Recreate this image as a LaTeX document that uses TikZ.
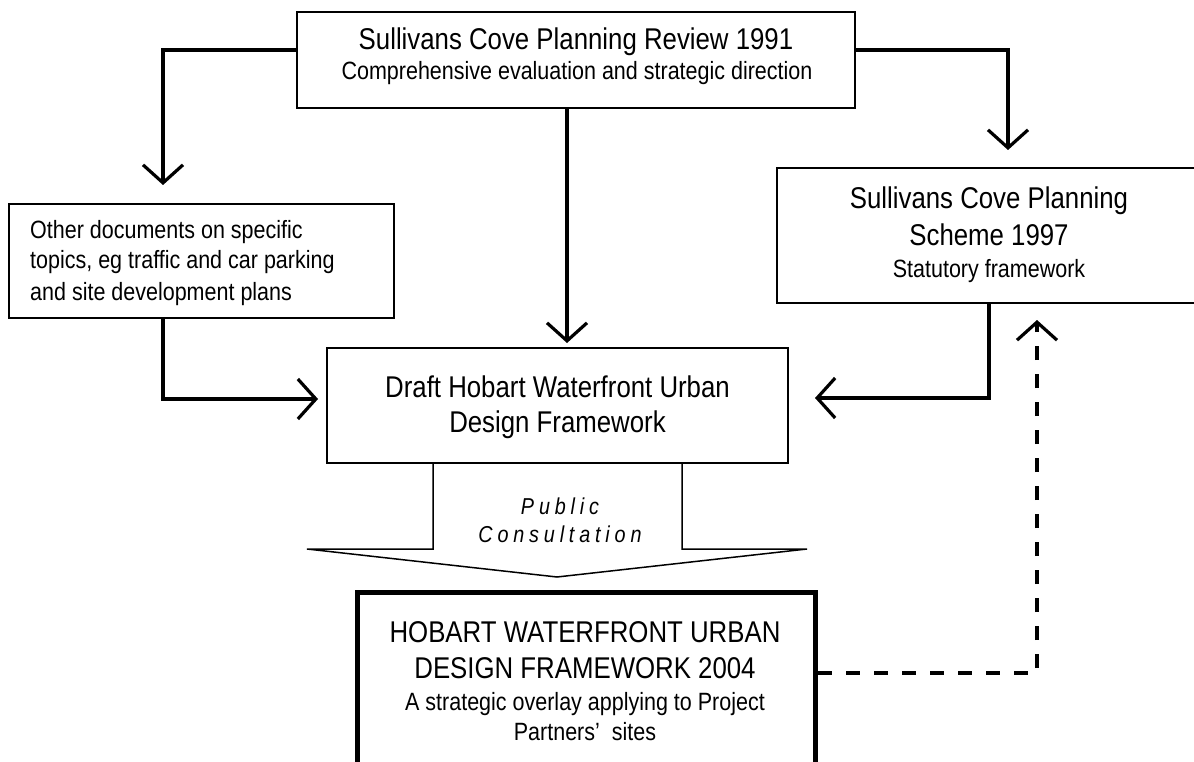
\documentclass[tikz,border=0pt]{standalone}
\usepackage{fontspec}
\setmainfont{Liberation Sans}[FakeStretch=0.86]
\newfontfamily\pcfont{Liberation Sans}[FakeStretch=0.86,LetterSpace=21]
\usetikzlibrary{arrows.meta}
\tikzset{
  box/.style={draw, line width=2pt, inner sep=0pt},
  bigtxt/.style={anchor=base, inner sep=0pt, font=\fontsize{30}{30}\selectfont},
  smalltxt/.style={anchor=base, inner sep=0pt, font=\fontsize{25}{25}\selectfont},
  conn/.style={line width=3.2pt, line join=miter, -{Straight Barb[length=18pt,width=40pt]}},
  dashconn/.style={conn, dash pattern=on 14pt off 14pt},
  outline/.style={line width=1.5pt, line join=miter}
}
\begin{document}
\begin{tikzpicture}[x=1pt,y=-1pt]
\useasboundingbox (0,0) rectangle (1194,762);
\fill[white] (0,0) rectangle (1194,762);

% boxes
\node[box, minimum width=558pt, minimum height=96pt] (top) at (576,60) {};
\node[box, minimum width=385pt, minimum height=114pt] (left) at (201.5,261) {};
\node[box, minimum width=424pt, minimum height=135pt] (right) at (989,235.5) {};
\node[box, line width=1.8pt, minimum width=461pt, minimum height=115pt] (center) at (557.5,405.5) {};
\node[draw, line width=5pt, inner sep=0pt, minimum width=458pt, minimum height=190pt] (bottom) at (586.5,687.5) {};

% texts
\node[bigtxt] (t1) at (576,50) {Sullivans Cove Planning Review 1991};
\node[smalltxt] (t2) at (577,80) {Comprehensive evaluation and strategic direction};

\node[smalltxt, anchor=base west] (l1) at (30,238) {Other documents on specific};
\node[smalltxt, anchor=base west] (l2) at (30,269) {topics, eg traffic and car parking};
\node[smalltxt, anchor=base west] (l3) at (30,300) {and site development plans};

\node[bigtxt] (r1) at (989,209) {Sullivans Cove Planning};
\node[bigtxt] (r2) at (989,246) {Scheme 1997};
\node[smalltxt] (r3) at (989,277) {Statutory framework};

\node[bigtxt] (c1) at (557.5,397) {Draft Hobart Waterfront Urban};
\node[bigtxt] (c2) at (557.5,432) {Design Framework};

\node[bigtxt] (b1) at (585,642) {HOBART WATERFRONT URBAN};
\node[bigtxt] (b2) at (585,678) {DESIGN FRAMEWORK 2004};
\node[smalltxt] (b3) at (585,710) {A strategic overlay applying to Project};
\node[smalltxt] (b4) at (585,740) {Partners’\hspace{12pt}sites};

\node[anchor=base, inner sep=0pt, font=\pcfont\itshape\fontsize{23}{23}\selectfont] (p1) at (560,514) {Public};
\node[anchor=base, inner sep=0pt, font=\pcfont\itshape\fontsize{23}{23}\selectfont] (p2) at (560,542) {Consultation};

% bend coordinates
\coordinate (lbend) at (163,50);
\coordinate (ltip) at (163,185);
\coordinate (rbend) at (1008,50);
\coordinate (rtip) at (1008,150);
\coordinate (ctip) at (567,343);
\coordinate (lbend2) at (163,399);
\coordinate (ltip2) at (318,399);
\coordinate (rbend2) at (989,398);
\coordinate (rtip2) at (815,398);
\coordinate (dbend) at (1037,673);
\coordinate (dtip) at (1037,320);

% connectors
\draw[conn] (top.west |- lbend) -- (lbend) -- (ltip);
\draw[conn] (top.east |- rbend) -- (rbend) -- (rtip);
\draw[conn] (top.south -| ctip) -- (ctip);
\draw[conn] (left.south -| lbend2) -- (lbend2) -- (ltip2);
\draw[conn] (right.south -| rbend2) -- (rbend2) -- (rtip2);
\draw[dashconn] (bottom.east |- dbend) -- (dbend) -- (dtip);

% public consultation block arrow
\draw[outline] (433,463) -- (433,549) -- (307,549) -- (557,577) -- (807,549) -- (682,549) -- (682,463);
\end{tikzpicture}
\end{document}
